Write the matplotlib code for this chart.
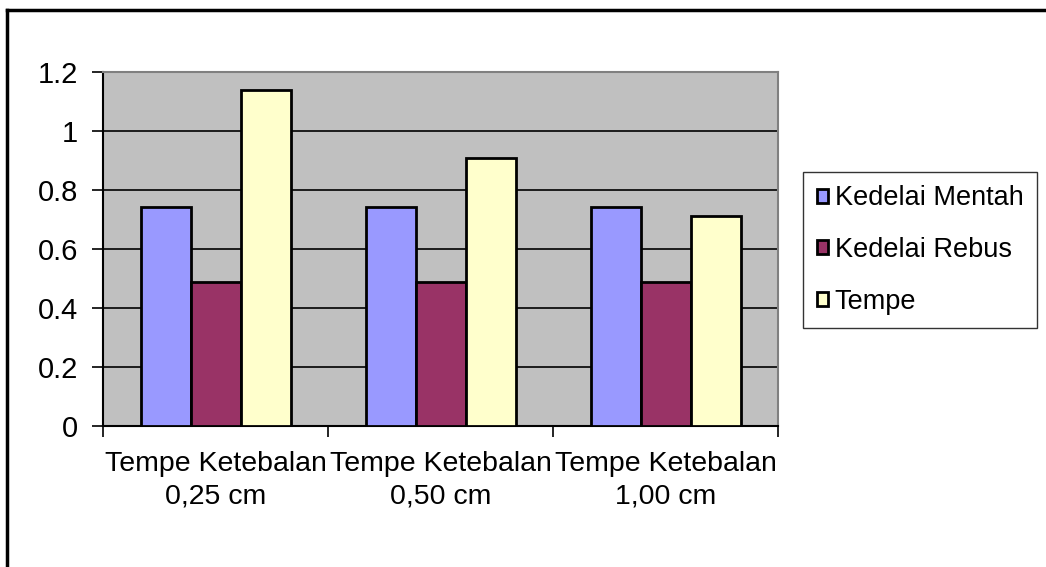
import numpy as np
import matplotlib
matplotlib.use("Agg")
import matplotlib.pyplot as plt
from matplotlib.lines import Line2D

plt.rcParams['font.family'] = ['Liberation Sans', 'DejaVu Sans']

# data
categories = ["Tempe Ketebalan\n0,25 cm", "Tempe Ketebalan\n0,50 cm", "Tempe Ketebalan\n1,00 cm"]
series_names = ["Kedelai Mentah", "Kedelai Rebus", "Tempe"]
kedelai_mentah = [0.743, 0.743, 0.742]
kedelai_rebus = [0.488, 0.488, 0.487]
tempe = [1.138, 0.907, 0.712]
colors = ["#9999FF", "#993366", "#FFFFCC"]

fig = plt.figure(figsize=(10.46, 5.67), dpi=100)
ax = fig.add_axes([0.0985, 0.2487, 0.6453, 0.6243])
ax.set_facecolor("#C0C0C0")

x = np.arange(len(categories)) + 0.5
w = 1 / 4.5
for i, (vals, name) in enumerate(zip([kedelai_mentah, kedelai_rebus, tempe], series_names)):
    ax.bar(x + (i - 1) * w, vals, width=w, color=colors[i], edgecolor="black",
           linewidth=2, label=name, zorder=3)

ax.set_xlim(0, 3)
ax.set_ylim(0, 1.2)
ax.set_yticks(np.arange(0, 1.21, 0.2))
ax.set_yticklabels(["0", "0.2", "0.4", "0.6", "0.8", "1", "1.2"])
ax.yaxis.grid(True, color="black", linewidth=1.2, zorder=1)
ax.set_axisbelow(True)

ax.set_xticks(x)
ax.set_xticklabels(categories)
ax.set_xticks([0, 1, 2, 3], minor=True)
ax.tick_params(axis="x", which="major", length=0, pad=18, labelsize=20.5)
ax.tick_params(axis="x", which="minor", length=8, width=1.2, direction="out")
ax.tick_params(axis="y", length=8, width=1.2, pad=10, labelsize=21)
for t in ax.get_xticklabels():
    t.set_linespacing(1.35)

for s in ["left", "bottom"]:
    ax.spines[s].set_color("black")
    ax.spines[s].set_linewidth(1.5)
for s in ["top", "right"]:
    ax.spines[s].set_color("#808080")
    ax.spines[s].set_linewidth(1.5)

leg = fig.legend(loc="center left", bbox_to_anchor=(0.7677, 0.559), fontsize=19.5,
                 frameon=True, fancybox=False, edgecolor="black",
                 handlelength=0.42, handleheight=0.42, handletextpad=0.25,
                 labelspacing=0.95, borderpad=0.5, borderaxespad=0)
leg.get_frame().set_linewidth(1.0)

# outer chart border (only top and left visible in the crop)
fig.add_artist(Line2D([7 / 1046, 7 / 1046], [0, 1 - 10 / 567], color="black", lw=2.5,
                      transform=fig.transFigure))
fig.add_artist(Line2D([7 / 1046, 1], [1 - 10 / 567, 1 - 10 / 567], color="black", lw=2.5,
                      transform=fig.transFigure))

fig.savefig("out.png", dpi=100)
